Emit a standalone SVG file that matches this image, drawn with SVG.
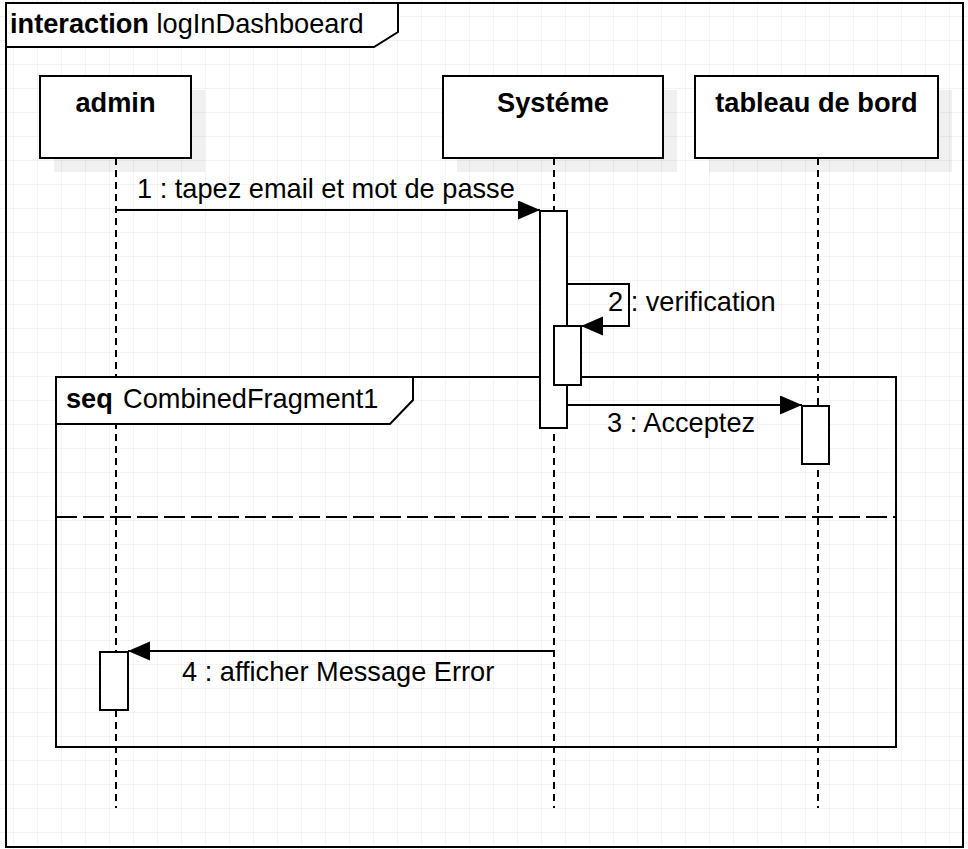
<svg xmlns="http://www.w3.org/2000/svg" width="968" height="849" viewBox="0 0 968 849">
  <style>
    text { font-family: "Liberation Sans", Arial, sans-serif; font-size: 27.2px; fill: #000; }
    .b { font-weight: bold; }
    .box { fill: #fff; stroke: #000; stroke-width: 2; }
    .shadow { fill: #000; fill-opacity: 0.06; stroke: none; }
    .act { fill: #fff; stroke: #000; stroke-width: 2; }
    .life { stroke: #000; stroke-width: 2; stroke-dasharray: 7 5; fill: none; }
    .msg { stroke: #000; stroke-width: 2; fill: none; }
    .frame { fill: none; stroke: #000; stroke-width: 2; }
    .lbl { fill: #fff; stroke: #000; stroke-width: 2; }
  </style>
  <defs>
    <pattern id="grid" x="13" y="16" width="24" height="24" patternUnits="userSpaceOnUse">
      <path d="M0,0 H24 M0,0 V24" fill="none" stroke="#e8e8e8" stroke-width="1"/>
    </pattern>
    <marker id="arr" markerWidth="24" markerHeight="20" refX="22" refY="9.5" orient="auto" markerUnits="userSpaceOnUse">
      <path d="M0,0 L22,9.5 L0,19 Z" fill="#000"/>
    </marker>
  </defs>

  <rect x="0" y="0" width="968" height="849" fill="#fff"/>
  <rect x="0" y="0" width="968" height="849" fill="url(#grid)"/>

  <g id="frame">
    <rect class="frame" x="6" y="3" width="957" height="844"/>
    <path class="lbl" d="M6,3 H398 V32 L374,47 H6 Z"/>
    <text x="10" y="33"><tspan class="b">interaction</tspan> logInDashboeard</text>
  </g>

  <g id="lifelines">
    <line class="life" x1="116" y1="158" x2="116" y2="808"/>
    <line class="life" x1="554" y1="158" x2="554" y2="808"/>
    <line class="life" x1="818" y1="158" x2="818" y2="808"/>
  </g>

  <g id="admin">
    <rect class="shadow" x="54" y="90" width="151" height="82"/>
    <rect class="box" x="40" y="76" width="151" height="82"/>
    <text class="b" x="115.5" y="112" text-anchor="middle">admin</text>
  </g>
  <g id="systeme">
    <rect class="shadow" x="457" y="90" width="220" height="82"/>
    <rect class="box" x="443" y="76" width="220" height="82"/>
    <text class="b" x="553" y="112" text-anchor="middle">Systéme</text>
  </g>
  <g id="tableau">
    <rect class="shadow" x="709" y="90" width="243" height="82"/>
    <rect class="box" x="695" y="76" width="243" height="82"/>
    <text class="b" x="816.5" y="112" text-anchor="middle">tableau de bord</text>
  </g>

  <g id="fragment">
    <rect class="frame" x="56" y="377" width="840" height="370"/>
    <path class="lbl" d="M56,377 H413 V400 L390,424 H56 Z"/>
    <text x="66" y="408"><tspan class="b">seq</tspan><tspan x="123">CombinedFragment1</tspan></text>
    <line x1="56" y1="517" x2="896" y2="517" stroke="#000" stroke-width="2" stroke-dasharray="21 6"/>
  </g>

  <g id="activations">
    <rect class="act" x="540" y="211" width="27" height="217"/>
    <rect class="act" x="554" y="326" width="27" height="59"/>
    <rect class="act" x="802" y="406" width="27" height="58"/>
    <rect class="act" x="100" y="652" width="28" height="58"/>
  </g>

  <g id="connectors">
    <line class="msg" x1="116" y1="210" x2="540" y2="210" marker-end="url(#arr)"/>
    <polyline class="msg" points="567,284 629,284 629,326 581,326" marker-end="url(#arr)"/>
    <line class="msg" x1="567" y1="405" x2="802" y2="405" marker-end="url(#arr)"/>
    <line class="msg" x1="554" y1="651" x2="128" y2="651" marker-end="url(#arr)"/>
  </g>

  <g id="labels">
    <text x="137" y="198">1 : tapez email et mot de passe</text>
    <text x="608" y="311">2 : verification</text>
    <text x="607" y="432">3 : Acceptez</text>
    <text x="182" y="681">4 : afficher Message Error</text>
  </g>
</svg>
